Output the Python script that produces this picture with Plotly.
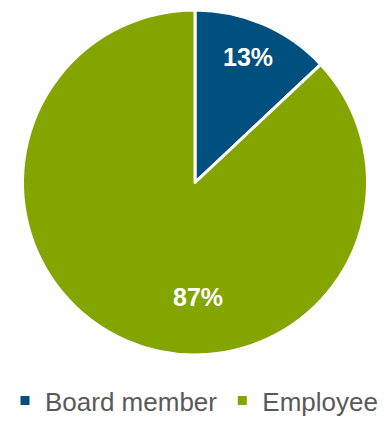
import plotly.graph_objects as go

# Share of respondents by role
roles = ["Board member", "Employee"]
shares = [13, 87]
colors = ["#00507F", "#84A500"]

W, H = 390, 424

# Label centres (px) for each slice's value
label_px = [(248, 57), (198, 297)]

fig = go.Figure()

fig.add_trace(go.Pie(
    labels=roles,
    values=shares,
    sort=False,
    direction="clockwise",
    rotation=0,
    marker=dict(colors=colors, line=dict(color="white", width=3)),
    textinfo="none",
    hoverinfo="label+percent",
    showlegend=True,
    domain=dict(x=[22.5 / W, 367.5 / W], y=[1 - 355.5 / H, 1 - 9.5 / H]),
))

for val, (px, py) in zip(shares, label_px):
    fig.add_annotation(
        x=px / W, y=1 - py / H, xref="paper", yref="paper",
        xanchor="center", yanchor="middle",
        text=f"<b>{val}%</b>", showarrow=False,
        font=dict(family="Liberation Sans, Arial, sans-serif", size=25, color="white"),
    )

fig.update_layout(
    width=W,
    height=H,
    margin=dict(l=0, r=0, t=0, b=0),
    paper_bgcolor="white",
    plot_bgcolor="white",
    font=dict(family="Liberation Sans, Arial, sans-serif"),
    legend=dict(
        orientation="h",
        x=5 / W,
        xanchor="left",
        y=0,
        yanchor="bottom",
        font=dict(size=26, color="#595959"),
        itemclick=False,
    ),
)

fig.write_html("out.html")
